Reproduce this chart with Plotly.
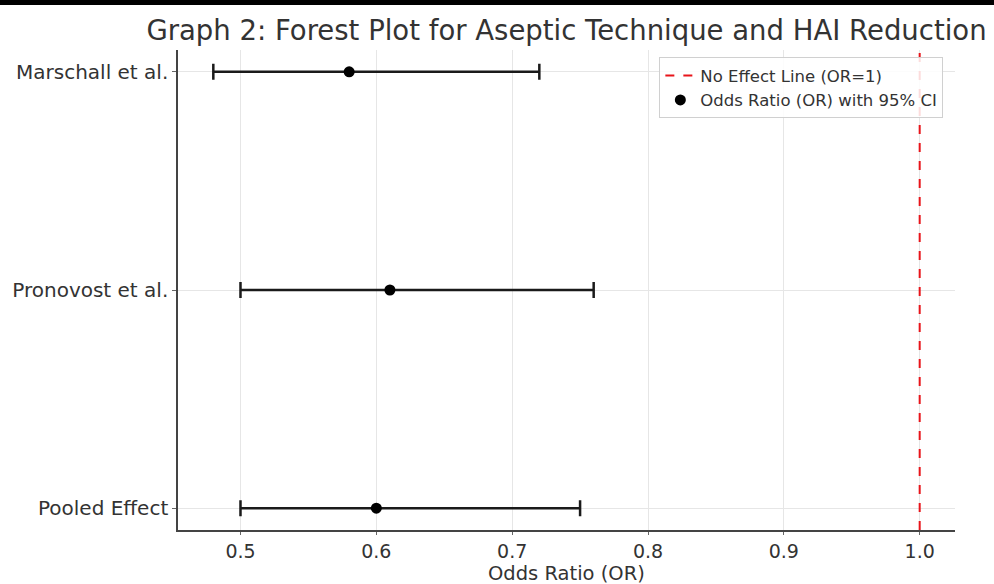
import plotly.graph_objects as go

studies = ["Marschall et al.", "Pronovost et al.", "Pooled Effect"]
odds_ratio = [0.58, 0.61, 0.60]
ci_lower = [0.48, 0.50, 0.50]
ci_upper = [0.72, 0.76, 0.75]
no_effect = 1.0
x_ticks = [0.5, 0.6, 0.7, 0.8, 0.9, 1.0]
x_tick_labels = ["0.5", "0.6", "0.7", "0.8", "0.9", "1.0"]
x_title = "Odds Ratio (OR)"

FONT = "DejaVu Sans"
TXT = "#333333"

err_plus = [u - o for u, o in zip(ci_upper, odds_ratio)]
err_minus = [o - l for o, l in zip(odds_ratio, ci_lower)]

fig = go.Figure()

# legend proxy for the reference line
fig.add_trace(go.Scatter(
    x=[None], y=[None], mode="lines",
    line=dict(color="#e8141a", width=2, dash="dash"),
    name="No Effect Line (OR=1)",
))

fig.add_trace(go.Scatter(
    x=odds_ratio, y=studies, mode="markers",
    marker=dict(color="black", size=11),
    error_x=dict(type="data", symmetric=False, array=err_plus, arrayminus=err_minus,
                 color="#1a1a1a", thickness=2.5, width=8),
    name="Odds Ratio (OR) with 95% CI",
))

fig.add_shape(type="line", xref="x", yref="paper", x0=no_effect, x1=no_effect,
              y0=0, y1=1, line=dict(color="#e8141a", width=2, dash="dash"), layer="above")

# thin dark band at the very top of the image
fig.add_shape(type="rect", xref="paper", yref="paper", x0=-0.25, x1=1.1,
              y0=1 + 45 / 480, y1=1 + 52 / 480, fillcolor="black", line=dict(width=0))

# x axis title as annotation to control its position precisely
fig.add_annotation(text=x_title, xref="paper", yref="paper", x=0.5, y=-(573 - 530) / 480,
                   xanchor="center", yanchor="middle", showarrow=False,
                   font=dict(family=FONT, size=19.5, color=TXT))

fig.update_layout(
    width=994, height=584,
    margin=dict(l=178, r=39, t=50, b=54),
    paper_bgcolor="white", plot_bgcolor="white",
    font=dict(family=FONT, color=TXT, size=20),
    title=dict(text="Graph 2: Forest Plot for Aseptic Technique and HAI Reduction",
               x=0.5, xref="paper", xanchor="center",
               y=1 - 30 / 584, yref="container", yanchor="middle",
               font=dict(family=FONT, size=27.5, color=TXT)),
    showlegend=True,
    legend=dict(x=0.985, y=0.985, xanchor="right", yanchor="top",
                bgcolor="rgba(255,255,255,0.85)", bordercolor="#d0d0d0", borderwidth=1,
                font=dict(family=FONT, size=16.5, color=TXT),
                tracegroupgap=0, itemwidth=30),
    xaxis=dict(range=[0.454, 1.026], tickvals=x_ticks, ticktext=x_tick_labels,
               automargin=False,
               showgrid=True, gridcolor="#e6e6e6", gridwidth=1,
               showline=True, linecolor="#444444", linewidth=1.5,
               ticks="outside", ticklen=3, tickcolor="#666666",
               tickfont=dict(size=19, color=TXT), zeroline=False),
    yaxis=dict(type="category", categoryorder="array", categoryarray=studies[::-1],
               range=[-0.1, 2.1], automargin=False,
               showgrid=True, gridcolor="#e6e6e6", gridwidth=1,
               showline=True, linecolor="#444444", linewidth=1.5,
               ticks="outside", ticklen=4, tickcolor="#666666",
               tickfont=dict(size=20, color=TXT), zeroline=False),
)

fig.write_html("out.html")
